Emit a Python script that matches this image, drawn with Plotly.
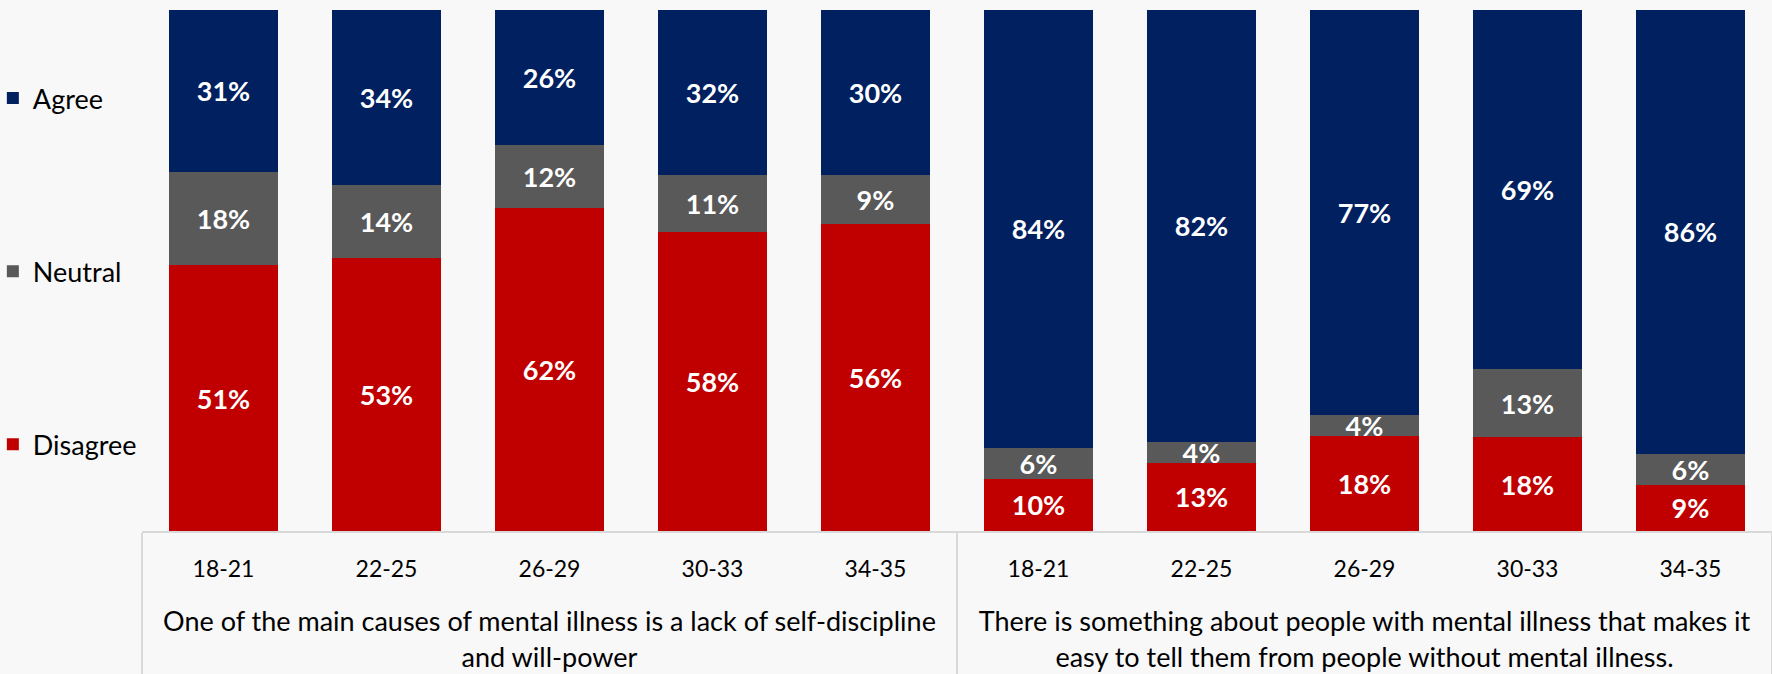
import plotly.graph_objects as go

group_titles = [
    "One of the main causes of mental illness is a lack of self-discipline<br>and will-power",
    "There is something about people with mental illness that makes it<br>easy to tell them from people without mental illness.",
]
ages = ["18-21", "22-25", "26-29", "30-33", "34-35"]

agree = [31, 34, 26, 32, 30, 84, 82, 77, 69, 86]
neutral = [18, 14, 12, 11, 9, 6, 4, 4, 13, 6]
disagree = [51, 53, 62, 58, 56, 10, 13, 18, 18, 9]

FONT = "Lato"
AGE_SIZE = 23

x_groups = [group_titles[0]] * 5 + [group_titles[1]] * 5
x_ages = [f'<span style="font-size:{AGE_SIZE}px">{a}</span><br>&nbsp;' for a in ages] * 2
x = [x_groups, x_ages]

series = [
    ("Disagree", disagree, "#C00000", 3),
    ("Neutral", neutral, "#595959", 2),
    ("Agree", agree, "#002060", 1),
]

fig = go.Figure()
for name, vals, color, rank in series:
    fig.add_trace(go.Bar(
        name=name,
        x=x,
        y=vals,
        marker=dict(color=color, line=dict(width=0)),
        text=[f"{v}%" for v in vals],
        textposition="inside",
        insidetextanchor="middle",
        textangle=0,
        textfont=dict(family=FONT, size=27, color="white", weight="bold"),
        legendgroup=name,
        legendrank=rank,
        hoverinfo="skip",
    ))

fig.update_layout(
    barmode="stack",
    barnorm="percent",
    bargap=0.333,
    width=1772,
    height=674,
    margin=dict(l=142, r=0, t=10, b=143, autoexpand=False),
    paper_bgcolor="#F8F8F8",
    plot_bgcolor="#F8F8F8",
    font=dict(family=FONT, size=23, color="black"),
    uniformtext=dict(mode="show", minsize=27),
    legend=dict(
        xref="paper", yref="container",
        x=-0.0915, y=1 - 74 / 674, xanchor="left", yanchor="top",
        traceorder="grouped",
        tracegroupgap=135,
        maxheight=600,
        font=dict(family=FONT, size=27, color="black"),
        itemwidth=30,
        bgcolor="rgba(0,0,0,0)",
    ),
    xaxis=dict(
        type="multicategory",
        showline=True, linecolor="#D9D9D9", linewidth=2,
        showdividers=True, dividercolor="#D9D9D9", dividerwidth=2,
        tickfont=dict(family=FONT, size=27, color="black"),
        ticklabelstandoff=12,
        showgrid=False,
    ),
    yaxis=dict(range=[0, 100], visible=False, showgrid=False),
)

fig.write_html("out.html")
